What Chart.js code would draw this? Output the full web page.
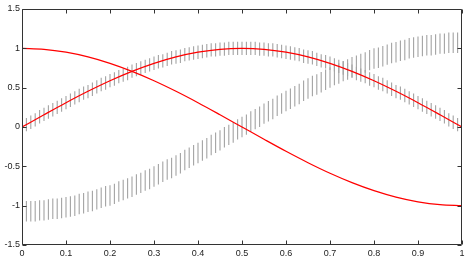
<!DOCTYPE html>
<html>
<head>
<meta charset="utf-8">
<script src="https://cdn.jsdelivr.net/npm/chart.js@4"></script>
<style>
  html, body { margin: 0; padding: 0; background: #fff; }
  #wrap { width: 468px; height: 261px; }
</style>
</head>
<body>
<div id="wrap"><canvas id="chart" width="468" height="261"></canvas></div>
<script>
// ─── Data ─────────────────────────────────────────────────────────────────────
// x positions of the error bars
const xs = [
  0, 0.01, 0.02, 0.03, 0.04, 0.05, 0.06, 0.07, 0.08, 0.09,
  0.1, 0.11, 0.12, 0.13, 0.14, 0.15, 0.16, 0.17, 0.18, 0.19,
  0.2, 0.21, 0.22, 0.23, 0.24, 0.25, 0.26, 0.27, 0.28, 0.29,
  0.3, 0.31, 0.32, 0.33, 0.34, 0.35, 0.36, 0.37, 0.38, 0.39,
  0.4, 0.41, 0.42, 0.43, 0.44, 0.45, 0.46, 0.47, 0.48, 0.49,
  0.5, 0.51, 0.52, 0.53, 0.54, 0.55, 0.56, 0.57, 0.58, 0.59,
  0.6, 0.61, 0.62, 0.63, 0.64, 0.65, 0.66, 0.67, 0.68, 0.69,
  0.7, 0.71, 0.72, 0.73, 0.74, 0.75, 0.76, 0.77, 0.78, 0.79,
  0.8, 0.81, 0.82, 0.83, 0.84, 0.85, 0.86, 0.87, 0.88, 0.89,
  0.9, 0.91, 0.92, 0.93, 0.94, 0.95, 0.96, 0.97, 0.98, 0.99, 1
];

// centres of the gray error-bar bands
const bandA = [
  0, 0.03, 0.06, 0.09, 0.13, 0.16, 0.19, 0.22, 0.25, 0.28,
  0.31, 0.34, 0.37, 0.40, 0.43, 0.45, 0.48, 0.51, 0.54, 0.56,
  0.59, 0.61, 0.64, 0.66, 0.68, 0.71, 0.73, 0.75, 0.77, 0.79,
  0.81, 0.83, 0.84, 0.86, 0.88, 0.89, 0.90, 0.92, 0.93, 0.94,
  0.95, 0.96, 0.97, 0.98, 0.98, 0.99, 0.99, 1.00, 1.00, 1.00,
  1.00, 1.00, 1.00, 1.00, 0.99, 0.99, 0.98, 0.98, 0.97, 0.96,
  0.95, 0.94, 0.93, 0.92, 0.90, 0.89, 0.88, 0.86, 0.84, 0.83,
  0.81, 0.79, 0.77, 0.75, 0.73, 0.71, 0.68, 0.66, 0.64, 0.61,
  0.59, 0.56, 0.54, 0.51, 0.48, 0.45, 0.43, 0.40, 0.37, 0.34,
  0.31, 0.28, 0.25, 0.22, 0.19, 0.16, 0.13, 0.09, 0.06, 0.03, 0
];
const bandB = [
  -1.07, -1.07, -1.07, -1.07, -1.06, -1.06, -1.05, -1.04, -1.04, -1.03,
  -1.02, -1.01, -1.00, -0.98, -0.97, -0.95, -0.94, -0.92, -0.90, -0.88,
  -0.87, -0.85, -0.82, -0.80, -0.78, -0.76, -0.73, -0.71, -0.68, -0.66,
  -0.63, -0.60, -0.57, -0.54, -0.52, -0.49, -0.46, -0.42, -0.39, -0.36,
  -0.33, -0.30, -0.27, -0.23, -0.20, -0.17, -0.13, -0.10, -0.07, -0.03,
  0, 0.03, 0.07, 0.10, 0.13, 0.17, 0.20, 0.23, 0.27, 0.30,
  0.33, 0.36, 0.39, 0.42, 0.46, 0.49, 0.52, 0.54, 0.57, 0.60,
  0.63, 0.66, 0.68, 0.71, 0.73, 0.76, 0.78, 0.80, 0.82, 0.85,
  0.87, 0.88, 0.90, 0.92, 0.94, 0.95, 0.97, 0.98, 1.00, 1.01,
  1.02, 1.03, 1.04, 1.04, 1.05, 1.06, 1.06, 1.07, 1.07, 1.07, 1.07
];
const errA = 0.085;
const errB = 0.13;

// red curves, read at steps of 0.05
const redX = [0, 0.05, 0.1, 0.15, 0.2, 0.25, 0.3, 0.35, 0.4, 0.45, 0.5,
              0.55, 0.6, 0.65, 0.7, 0.75, 0.8, 0.85, 0.9, 0.95, 1];
const redA = [0, 0.156, 0.309, 0.454, 0.588, 0.707, 0.809, 0.891, 0.951, 0.988, 1,
              0.988, 0.951, 0.891, 0.809, 0.707, 0.588, 0.454, 0.309, 0.156, 0];
const redB = [1, 0.988, 0.951, 0.891, 0.809, 0.707, 0.588, 0.454, 0.309, 0.156, 0,
              -0.156, -0.309, -0.454, -0.588, -0.707, -0.809, -0.891, -0.951, -0.988, -1];

const xTicks = [0, 0.1, 0.2, 0.3, 0.4, 0.5, 0.6, 0.7, 0.8, 0.9, 1];
const yTicks = [-1.5, -1, -0.5, 0, 0.5, 1, 1.5];

// ─── Helpers ──────────────────────────────────────────────────────────────────
const pts = (ys) => redX.map((x, i) => ({ x, y: ys[i] }));
const bars = (ys, e) => xs.map((x, i) => ({ x, y: [ys[i] - e, ys[i] + e] }));

// MATLAB-like box with inward ticks on all four sides
const boxPlugin = {
  id: 'box',
  afterDraw(chart) {
    const { ctx, chartArea: a, scales: { x, y } } = chart;
    const L = Math.round(a.left) + 0.5, R = Math.round(a.right) - 0.5;
    const T = Math.round(a.top) + 0.5, B = Math.round(a.bottom) - 0.5;
    const len = 4;
    ctx.save();
    ctx.strokeStyle = '#333';
    ctx.lineWidth = 1;
    ctx.beginPath();
    ctx.rect(L, T, R - L, B - T);
    xTicks.forEach(v => {
      const px = Math.round(x.getPixelForValue(v)) + 0.5;
      ctx.moveTo(px, B); ctx.lineTo(px, B - len);
      ctx.moveTo(px, T); ctx.lineTo(px, T + len);
    });
    yTicks.forEach(v => {
      const py = Math.round(y.getPixelForValue(v)) + 0.5;
      ctx.moveTo(L, py); ctx.lineTo(L + len, py);
      ctx.moveTo(R, py); ctx.lineTo(R - len, py);
    });
    ctx.stroke();
    ctx.restore();
  }
};

// ─── Chart ────────────────────────────────────────────────────────────────────
const tickFont = { family: '"Liberation Sans", Arial, sans-serif', size: 9 };
const fmt = v => String(v);

new Chart(document.getElementById('chart'), {
  data: {
    datasets: [
      { type: 'line', data: pts(redA), borderColor: '#ff0000', borderWidth: 1.2, pointRadius: 0, cubicInterpolationMode: 'monotone', order: 0 },
      { type: 'line', data: pts(redB), borderColor: '#ff0000', borderWidth: 1.2, pointRadius: 0, cubicInterpolationMode: 'monotone', order: 0 },
      { type: 'bar', data: bars(bandA, errA), backgroundColor: '#a3a3a3', grouped: false, maxBarThickness: 1.1, order: 1 },
      { type: 'bar', data: bars(bandB, errB), backgroundColor: '#a3a3a3', grouped: false, maxBarThickness: 1.1, order: 1 }
    ]
  },
  options: {
    responsive: false,
    animation: false,
    layout: { padding: { top: 9, right: 6, left: 0, bottom: 0 } },
    plugins: { legend: { display: false }, tooltip: { enabled: false } },
    scales: {
      x: {
        type: 'linear', min: 0, max: 1, offset: false,
        afterFit: s => { s.height = 16; },
        afterBuildTicks: s => { s.ticks = xTicks.map(v => ({ value: v })); },
        grid: { display: false, drawTicks: false },
        border: { display: false },
        ticks: { font: tickFont, color: '#222', padding: 3, maxRotation: 0, autoSkip: false, callback: fmt }
      },
      y: {
        type: 'linear', min: -1.5, max: 1.5,
        afterFit: s => { s.width = 22; },
        afterBuildTicks: s => { s.ticks = yTicks.map(v => ({ value: v })); },
        grid: { display: false, drawTicks: false },
        border: { display: false },
        ticks: { font: tickFont, color: '#222', padding: 2, callback: fmt }
      }
    }
  },
  plugins: [boxPlugin]
});
</script>
</body>
</html>
